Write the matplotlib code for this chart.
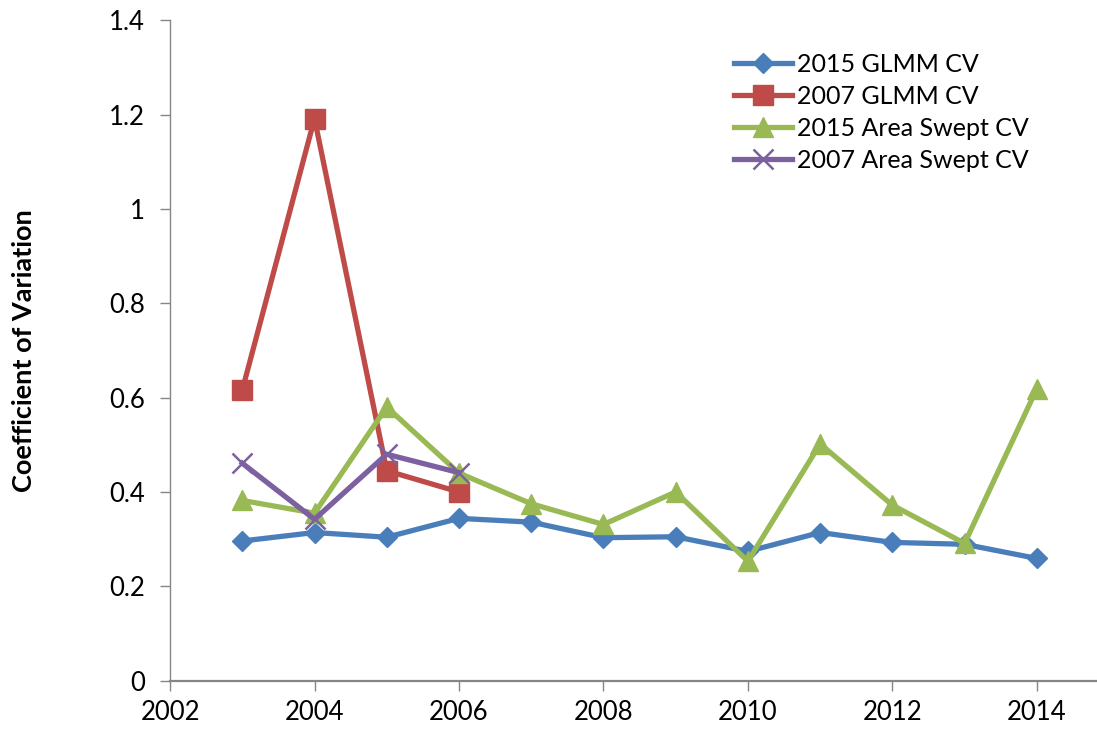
import matplotlib.pyplot as plt

plt.rcParams['font.family'] = ['Lato', 'DejaVu Sans']

years = [2003, 2004, 2005, 2006, 2007, 2008, 2009, 2010, 2011, 2012, 2013, 2014]
years_2007 = [2003, 2004, 2005, 2006]

glmm_2015 = [0.296, 0.314, 0.304, 0.344, 0.336, 0.303, 0.305, 0.274, 0.314, 0.293, 0.289, 0.259]
glmm_2007 = [0.616, 1.192, 0.445, 0.400]
swept_2015 = [0.382, 0.355, 0.580, 0.440, 0.375, 0.331, 0.400, 0.253, 0.502, 0.372, 0.291, 0.619]
swept_2007 = [0.461, 0.342, 0.480, 0.441]

fig = plt.figure(figsize=(10.97, 7.31), dpi=100)
ax = fig.add_axes([0.155, 0.069, 0.856, 0.903])

lw = 3.8
ax.plot(years, glmm_2015, color='#4A7EBB', lw=lw, marker='D', ms=10.5,
        label='2015 GLMM CV')
ax.plot(years_2007, glmm_2007, color='#BE4B48', lw=lw, marker='s', ms=14.5,
        label='2007 GLMM CV')
ax.plot(years, swept_2015, color='#98B954', lw=lw, marker='^', ms=15,
        label='2015 Area Swept CV')
ax.plot(years_2007, swept_2007, color='#7D60A0', lw=lw, marker='x', ms=14,
        mew=1.8, label='2007 Area Swept CV')

ax.set_xlim(2002, 2015)
ax.set_ylim(0, 1.4)
ax.set_xticks(range(2002, 2015, 2))
ax.set_yticks([0, 0.2, 0.4, 0.6, 0.8, 1.0, 1.2, 1.4])
ax.set_yticklabels(['0', '0.2', '0.4', '0.6', '0.8', '1', '1.2', '1.4'])

for s in ['top', 'right']:
    ax.spines[s].set_visible(False)
for s in ['left', 'bottom']:
    ax.spines[s].set_color('#868686')
ax.spines['bottom'].set_linewidth(1.6)
ax.spines['left'].set_linewidth(1.0)
ax.tick_params(axis='both', colors='#868686', labelcolor='black',
               labelsize=18.5, length=7, width=1.0)
ax.tick_params(axis='x', pad=7)
ax.tick_params(axis='y', pad=11)

ax.set_ylabel('Coefficient of Variation', fontsize=19.5, fontweight='bold',
              labelpad=53)

ax.legend(loc='upper left', bbox_to_anchor=(0.658, 0.945),
          bbox_transform=fig.transFigure, frameon=False, fontsize=18,
          handlelength=2.3, handletextpad=0.2, labelspacing=0.36,
          borderpad=0)

fig.savefig('out.png', dpi=100)
